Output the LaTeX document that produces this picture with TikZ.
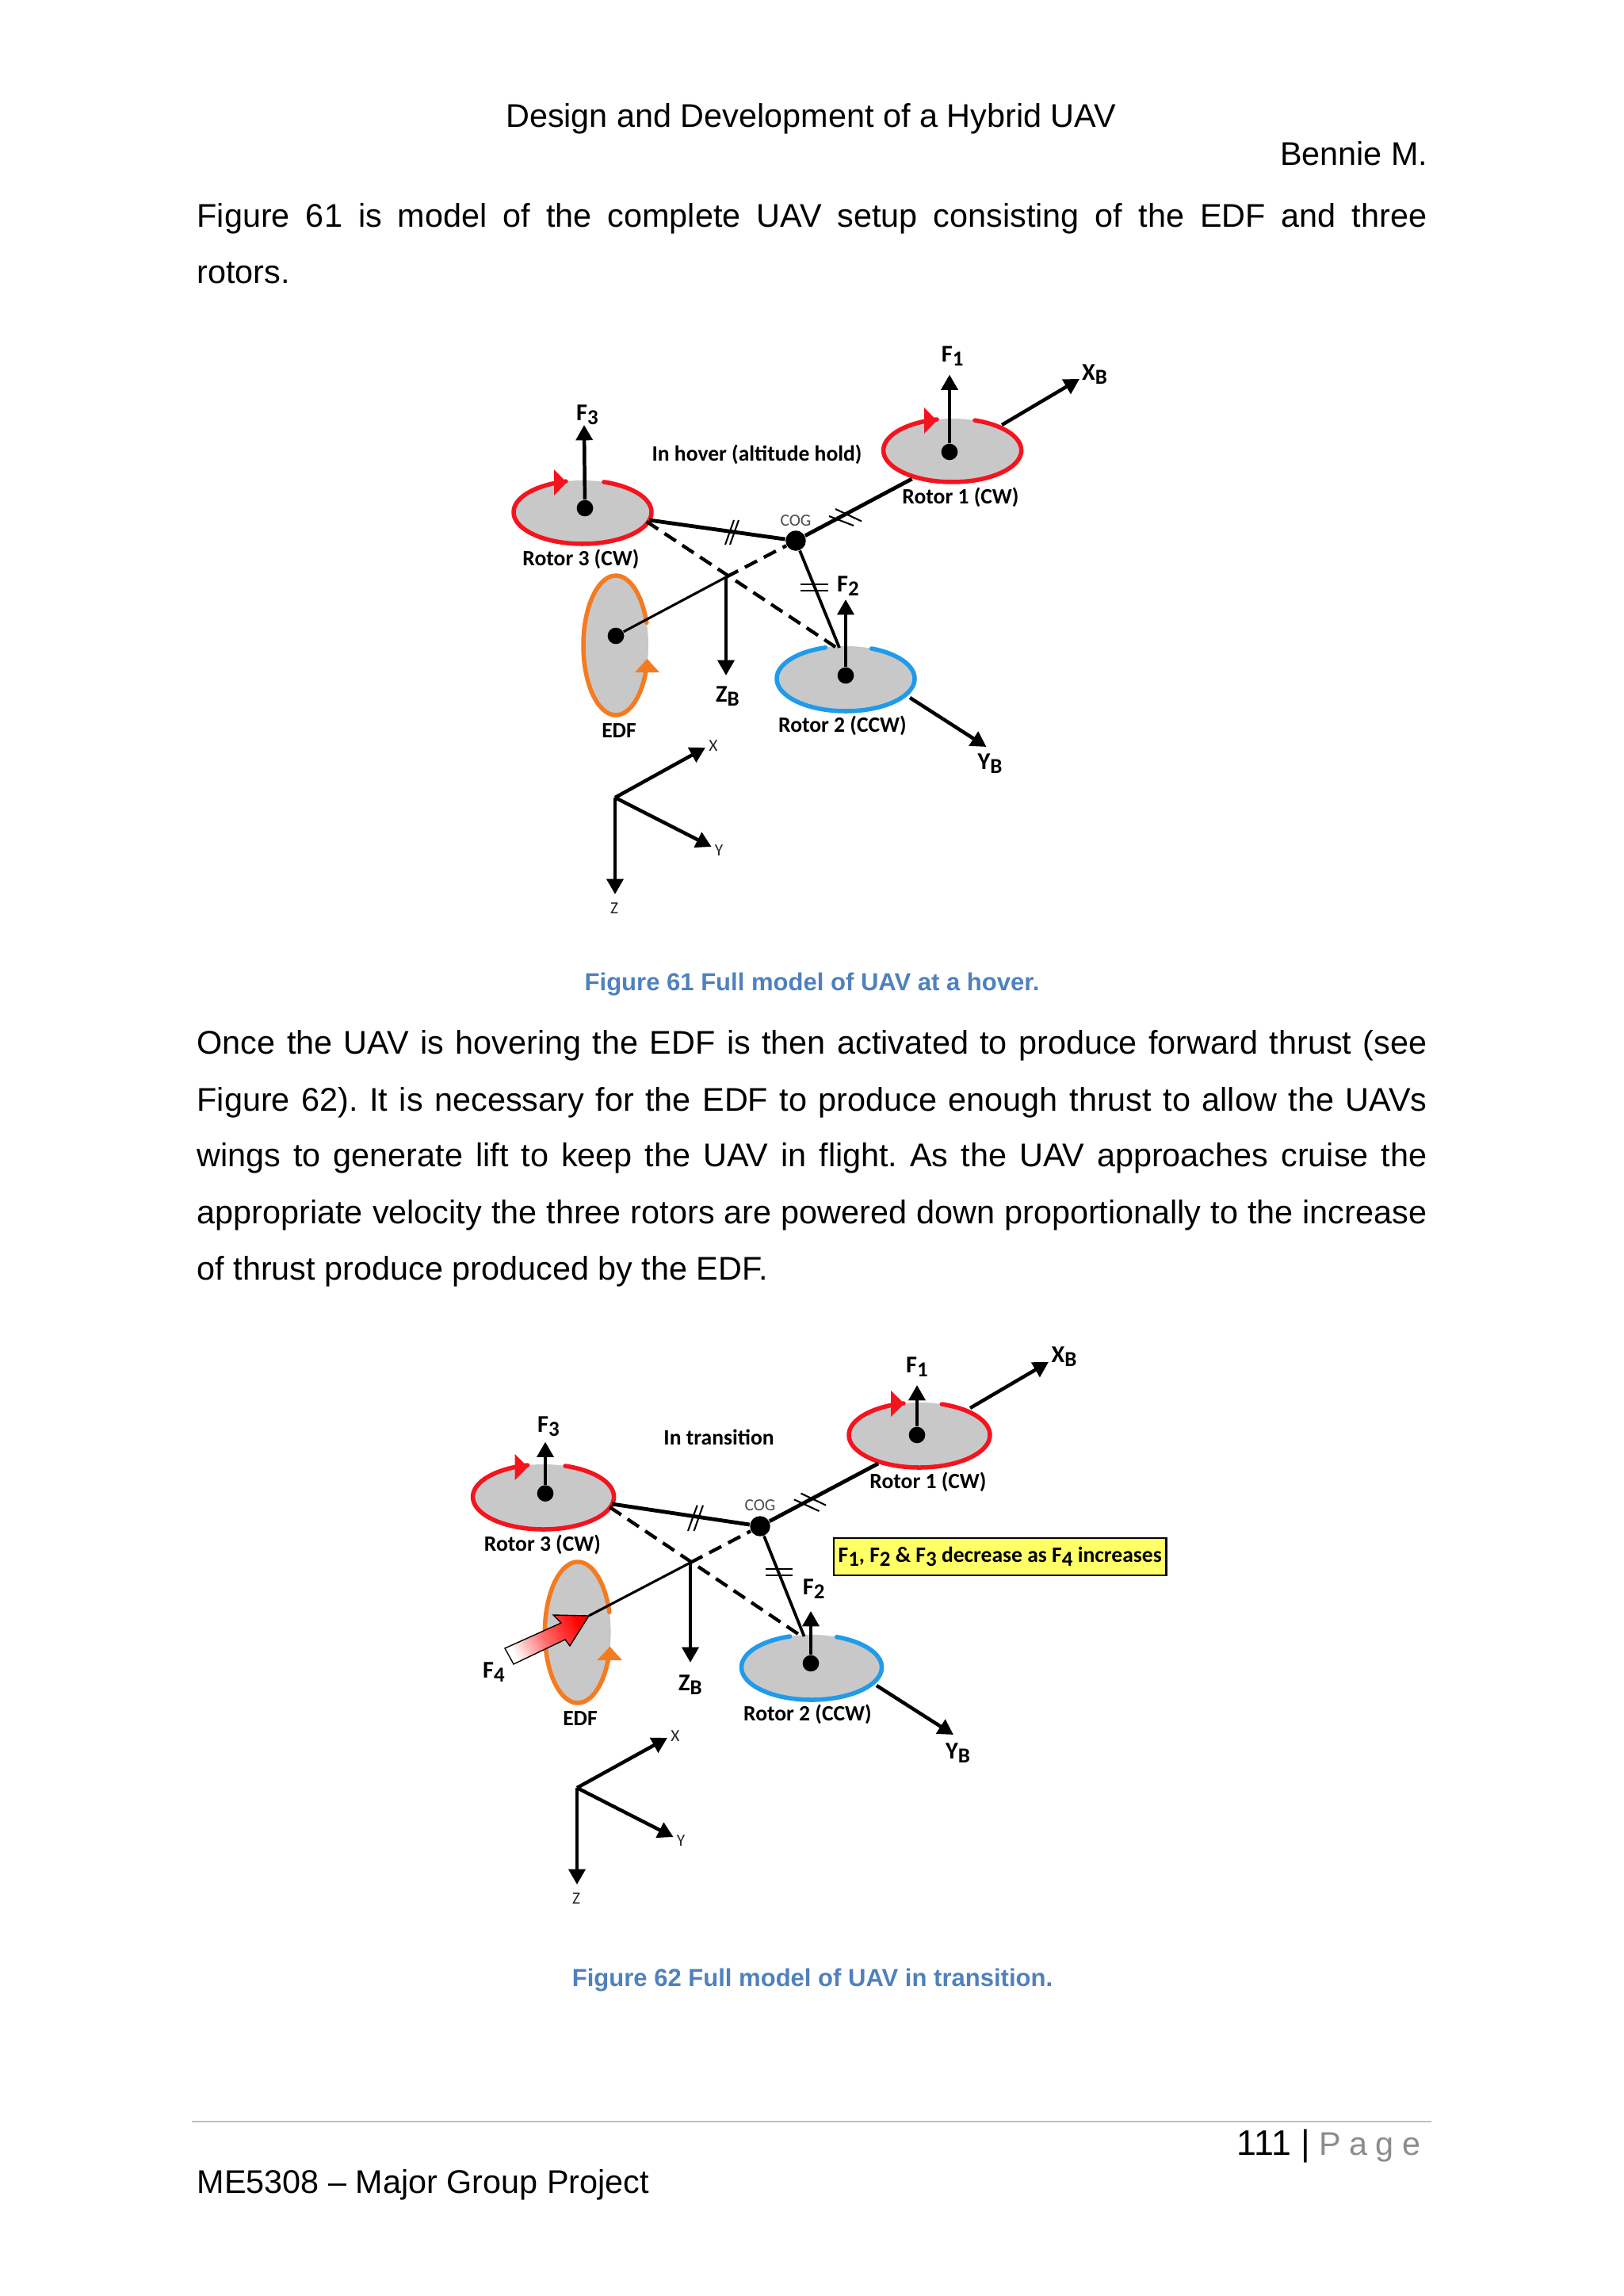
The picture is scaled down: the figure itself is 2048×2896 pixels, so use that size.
\documentclass[tikz,border=0pt]{standalone}
\usepackage{fontspec}
\setmainfont{Liberation Sans}
\newfontfamily\labfont{Carlito}
\usetikzlibrary{arrows.meta,shapes.geometric}
\definecolor{capblue}{HTML}{4F81BD}
\definecolor{discgrey}{HTML}{C8C8C8}
\definecolor{rotred}{HTML}{F5141E}
\definecolor{rotblue}{HTML}{1F9BEA}
\definecolor{edforange}{HTML}{F47B20}
\definecolor{notehl}{HTML}{FFFF66}
\newcommand{\lsub}[1]{\raisebox{-.38ex}{\fontsize{7.8}{8}\selectfont #1}}
\newcommand{\rotordisc}[8]{%
  \node[disc,minimum width=#4*2*.29pt,minimum height=#5*2*.29pt] (#1) at (#2,#3) {};
  \draw[rim,draw=#6] plot[domain=#7:#8,samples=90,smooth] ({#2+#4*cos(\x)},{#3-#5*sin(\x)});
}
\newcommand{\axestriad}[3]{%
  \coordinate (#1-o) at (#2,#3);
  \coordinate (#1-x) at (#2+114,#3-63);
  \coordinate (#1-y) at (#2+121.6,#3+62);
  \coordinate (#1-z) at (#2,#3+122);
  \draw[arr] (#1-o) -- (#1-x);
  \draw[arr] (#1-o) -- (#1-y);
  \draw[arr] (#1-o) -- (#1-z);
  \node[smalllab] (#1-xl) at (#2+124,#3-68) {X};
  \node[smalllab] (#1-yl) at (#2+131,#3+64) {Y};
  \node[smalllab] (#1-zl) at (#2-1,#3+137) {Z};
}
\tikzset{
  bodyl/.style={anchor=mid west,inner sep=0pt,font=\fontsize{12}{14}\selectfont},
  bodyr/.style={anchor=mid east,inner sep=0pt,font=\fontsize{12}{14}\selectfont},
  bodyc/.style={anchor=mid,inner sep=0pt,font=\fontsize{12}{14}\selectfont},
  capt/.style={anchor=mid,inner sep=0pt,text=capblue,font=\fontsize{9}{11}\selectfont\bfseries},
  lab/.style={anchor=mid,inner sep=0pt,font=\labfont\bfseries\fontsize{8}{9}\selectfont},
  flab/.style={anchor=mid,inner sep=0pt,font=\labfont\bfseries\fontsize{8.8}{9}\selectfont},
  smalllab/.style={anchor=mid,inner sep=0pt,text=black!85,font=\labfont\fontsize{6.2}{7}\selectfont},
  coglab/.style={anchor=mid,inner sep=0pt,text=black!70,font=\labfont\fontsize{6.2}{7}\selectfont},
  disc/.style={ellipse,fill=discgrey,draw=none,inner sep=0pt},
  rim/.style={line width=1.6pt,line cap=round},
  dot/.style={circle,fill=black,inner sep=0pt,minimum size=6pt},
  cogdot/.style={circle,fill=black,inner sep=0pt,minimum size=7.4pt},
  arr/.style={line width=1.3pt,-{Triangle[length=5.6pt,width=6pt]}},
  rod/.style={line width=1.4pt},
  thinrod/.style={line width=.9pt},
  midrod/.style={line width=1.1pt},
  dashrod/.style={line width=1.25pt,dash pattern=on 5pt off 2.8pt},
  tick/.style={line width=.6pt},
  note/.style={draw=black,line width=.6pt,fill=notehl,inner sep=0pt,minimum width=419.5*.29pt,minimum height=47*.29pt,font=\labfont\bfseries\fontsize{8}{9}\selectfont}
}
\begin{document}
\frenchspacing
\begin{tikzpicture}[x=.29pt,y=-.29pt]
\useasboundingbox (0,0) rectangle (2048,2896);
% page text
\node[bodyc] (title) at (1023,151) {Design and Development of a Hybrid UAV};
\node[bodyr] (author) at (1802,199) {Bennie M.};
\node[bodyl] (p1a) at (248,277.5) {\makebox[450pt][s]{Figure 61 is model of the complete UAV setup consisting of the EDF and three}};
\node[bodyl] (p1b) at (248,348.5) {rotors.};
\node[capt] (cap61) at (1024.5,1240) {Figure 61 Full model of UAV at a hover.};
\node[bodyl] (p2a) at (248,1320) {\makebox[450pt][s]{Once the UAV is hovering the EDF is then activated to produce forward thrust (see}};
\node[bodyl] (p2b) at (248,1392) {\makebox[450pt][s]{Figure 62). It is necessary for the EDF to produce enough thrust to allow the UAVs}};
\node[bodyl] (p2c) at (248,1462) {\makebox[450pt][s]{wings to generate lift to keep the UAV in flight. As the UAV approaches cruise the}};
\node[bodyl] (p2d) at (248,1534) {\makebox[450pt][s]{appropriate velocity the three rotors are powered down proportionally to the increase}};
\node[bodyl] (p2e) at (248,1605) {of thrust produce produced by the EDF.};
\node[capt] (cap62) at (1025,2496) {Figure 62 Full model of UAV in transition.};
\coordinate (rulea) at (242,2676);
\coordinate (ruleb) at (1806,2676);
\draw[black!25,line width=.6pt] (rulea) -- (ruleb);
\node[bodyr] (pageno) at (1793,2709) {{\fontsize{13}{14}\selectfont 111 |} {\color{black!45}P\hspace{3pt}a\hspace{3pt}g\hspace{3pt}e}};
\node[bodyl] (footer) at (248,2757) {ME5308 – Major Group Project};

% ===== Figure 61 =====
\rotordisc{a-r1}{1201.6}{568}{87}{40}{rotred}{71}{-257}
\rotordisc{a-r3}{735}{646}{87}{40}{rotred}{72}{-256}
\rotordisc{a-r2}{1067}{856}{87}{41}{rotblue}{68}{-253}
\rotordisc{a-e}{777}{814}{41}{88}{edforange}{19}{346}
\fill[rotred] (1166,514) -- (1182,530.5) -- (1166,547) -- cycle;
\fill[rotred] (699,592) -- (715,608.5) -- (699,625) -- cycle;
\fill[edforange] (816.4,831) -- (832,848) -- (801,848) -- cycle;
\node[dot] (a-d1) at (1198,570) {};
\node[dot] (a-d3) at (738,641) {};
\node[dot] (a-d2) at (1067,852) {};
\node[dot] (a-de) at (777,802) {};
\node[cogdot] (a-cog) at (1004,682) {};
\coordinate (a-j) at (916,728);
\coordinate (a-r1e) at (1150.6,604);
\coordinate (a-r3e) at (819,656);
\coordinate (a-r3f) at (816,658);
\coordinate (a-r2e) at (1059,817);
\coordinate (a-r2f) at (1054,816);
\coordinate (a-f1) at (1198,472.5);
\coordinate (a-f3) at (737,536);
\coordinate (a-f2) at (1067,756);
\coordinate (a-zb) at (916,852);
\coordinate (a-xs) at (1264,536);
\coordinate (a-xt) at (1362,478);
\coordinate (a-ys) at (1148,880);
\coordinate (a-yt) at (1244.5,942);
\draw[rod] (a-r1e) -- (a-cog);
\draw[rod] (a-r3e) -- (a-cog);
\draw[midrod] (a-cog) -- (a-r2e);
\draw[thinrod] (a-de) -- (a-j);
\draw[dashrod] (a-j) -- (a-cog);
\draw[dashrod] (a-r3f) -- (a-r2f);
\draw[arr] (a-d1) -- (a-f1);
\draw[arr] (a-d3) -- (a-f3);
\draw[arr] (a-d2) -- (a-f2);
\draw[arr] (a-j) -- (a-zb);
\draw[arr] (a-xs) -- (a-xt);
\draw[arr] (a-ys) -- (a-yt);
\draw[tick] (932,656) -- (921,687) (926,656) -- (915,687);
\draw[tick] (1054,642) -- (1087,657.5) (1046,651) -- (1077,663);
\draw[tick] (1010,737) -- (1044.5,737) (1010,745) -- (1044.5,745);
\node[lab] (a-t0) at (955,572) {In hover (altitude hold)};
\node[lab] (a-t1) at (1212,626) {Rotor 1 (CW)};
\node[lab] (a-t3) at (733,704) {Rotor 3 (CW)};
\node[lab] (a-te) at (781,921) {EDF};
\node[lab] (a-t2) at (1063,914) {Rotor 2 (CCW)};
\node[coglab] (a-tc) at (1004,654) {COG};
\node[flab] (a-l1) at (1201.6,447) {F\lsub{1}};
\node[flab] (a-l3) at (741,521) {F\lsub{3}};
\node[flab] (a-l2) at (1070,737) {F\lsub{2}};
\node[flab] (a-lx) at (1381,470) {X\lsub{B}};
\node[flab] (a-lz) at (918,876) {Z\lsub{B}};
\node[flab] (a-ly) at (1249,961) {Y\lsub{B}};
\axestriad{a}{776}{1006}

% ===== Figure 62 =====
\rotordisc{b-r1}{1160}{1810}{89}{41}{rotred}{71.5}{-257}
\rotordisc{b-r3}{685.6}{1888}{89}{41}{rotred}{72}{-257}
\rotordisc{b-r2}{1024}{2103}{88.5}{41}{rotblue}{69}{-252}
\rotordisc{b-e}{729}{2059}{41.6}{89}{edforange}{16.6}{346}
\fill[rotred] (1124,1754) -- (1141,1770.5) -- (1124,1787) -- cycle;
\fill[rotred] (649.6,1834) -- (666,1850.5) -- (649.6,1867) -- cycle;
\fill[edforange] (769.4,2077) -- (785,2094) -- (753.4,2094) -- cycle;
\node[dot] (b-d1) at (1157,1810) {};
\node[dot] (b-d3) at (688,1883.6) {};
\node[dot] (b-d2) at (1023,2098) {};
\node[cogdot] (b-cog) at (959,1925) {};
\coordinate (b-j) at (871,1971);
\coordinate (b-de) at (743,2038);
\coordinate (b-r1e) at (1108,1846);
\coordinate (b-r3e) at (772,1897);
\coordinate (b-r3f) at (769.4,1901);
\coordinate (b-r2e) at (1014.6,2064);
\coordinate (b-r2f) at (1007.7,2061.4);
\coordinate (b-f1) at (1157,1747);
\coordinate (b-f3) at (688,1818.6);
\coordinate (b-f2) at (1023,2032);
\coordinate (b-zb) at (871,2097);
\coordinate (b-xs) at (1224,1776);
\coordinate (b-xt) at (1323,1718);
\coordinate (b-ys) at (1106,2126);
\coordinate (b-yt) at (1203,2188);
\draw[rod] (b-r1e) -- (b-cog);
\draw[rod] (b-r3e) -- (b-cog);
\draw[midrod] (b-cog) -- (b-r2e);
\draw[thinrod] (b-de) -- (b-j);
\draw[dashrod] (b-j) -- (b-cog);
\draw[dashrod] (b-r3f) -- (b-r2f);
\draw[arr] (b-d1) -- (b-f1);
\draw[arr] (b-d3) -- (b-f3);
\draw[arr] (b-d2) -- (b-f2);
\draw[arr] (b-j) -- (b-zb);
\draw[arr] (b-xs) -- (b-xt);
\draw[arr] (b-ys) -- (b-yt);
\draw[tick] (887,1898.6) -- (875.6,1931) (879.7,1898.6) -- (868,1931);
\draw[tick] (1010.5,1883.6) -- (1042,1898.6) (1002,1891.4) -- (1033.5,1906);
\draw[tick] (965.8,1979) -- (1000,1979) (965.8,1987) -- (1000,1987);
% F4 arrow
\draw[black,line width=.4pt,top color=red,bottom color=white,middle color=red!60!white,shading angle=-63]
  (637,2079) -- (708,2047) -- (698,2037) -- (743,2038) -- (719,2076) -- (713,2068) -- (648,2099) -- cycle;
\node[lab] (b-t0) at (907,1813) {In transition};
\node[lab] (b-t1) at (1171,1868) {Rotor 1 (CW)};
\node[lab] (b-t3) at (684.5,1947.6) {Rotor 3 (CW)};
\node[lab] (b-te) at (732,2167.5) {EDF};
\node[lab] (b-t2) at (1019,2161) {Rotor 2 (CCW)};
\node[coglab] (b-tc) at (959,1896) {COG};
\node[flab] (b-l1) at (1157,1722) {F\lsub{1}};
\node[flab] (b-l3) at (692,1797) {F\lsub{3}};
\node[flab] (b-l2) at (1026.6,2002) {F\lsub{2}};
\node[flab] (b-l4) at (623,2107) {F\lsub{4}};
\node[flab] (b-lx) at (1342.6,1709) {X\lsub{B}};
\node[flab] (b-lz) at (871,2123) {Z\lsub{B}};
\node[flab] (b-ly) at (1208.6,2209) {Y\lsub{B}};
\node[note] (b-note) at (1261.7,1963.3) {F\lsub{1}, F\lsub{2} \& F\lsub{3} decrease as F\lsub{4} increases};
\axestriad{b}{728}{2255}
\end{tikzpicture}
\end{document}
